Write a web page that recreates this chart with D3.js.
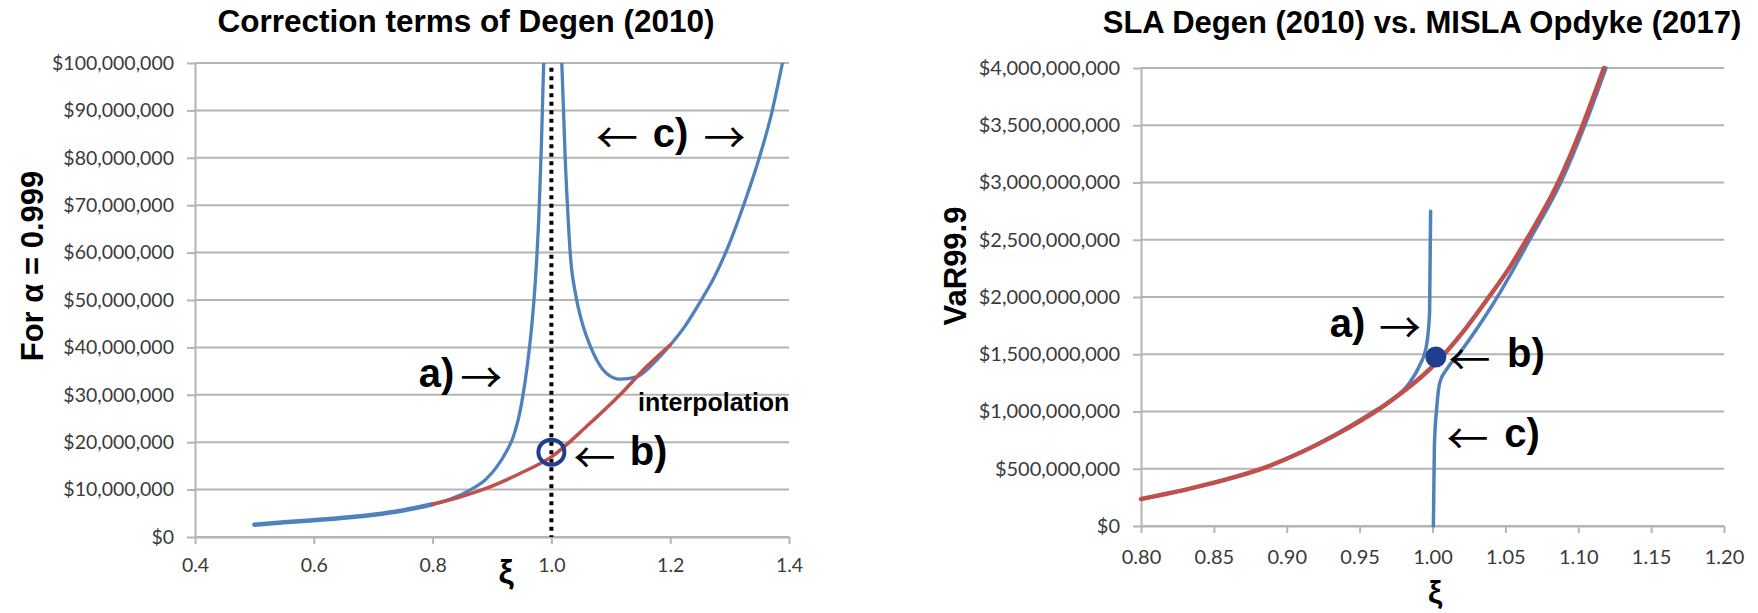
<!DOCTYPE html>
<html>
<head>
<meta charset="utf-8">
<script src="https://cdn.jsdelivr.net/npm/d3@7"></script>
<style>
  body { margin: 0; background: #fff; }
  svg { display: block; }
</style>
</head>
<body>
<svg id="chart" width="1758" height="613"></svg>
<script>
// ---- left panel: correction terms of Degen (2010), values in $ millions ----
var leftXTicks = [0.4, 0.6, 0.8, 1.0, 1.2, 1.4];
var leftYTicks = [0, 10, 20, 30, 40, 50, 60, 70, 80, 90, 100];
// blue curve below the interpolation range
var leftBase = [[0.5, 2.6], [0.55, 3.1], [0.6, 3.55], [0.65, 4.05], [0.7, 4.7], [0.75, 5.6], [0.8, 6.9]];
// a) branch, blows up just left of xi = 1
var leftBranchA = [[0.8, 6.9], [0.83, 8.0], [0.863, 9.9], [0.89, 12.2], [0.908, 14.8], [0.925, 18.2],
    [0.936, 21.2], [0.95, 28.3], [0.96, 36.7], [0.968, 46], [0.974, 56], [0.979, 68],
    [0.983, 82], [0.987, 100]];
// c) branch, comes down right of xi = 1
var leftBranchC = [[1.0175, 100], [1.0204, 90], [1.0232, 80], [1.027, 70], [1.0316, 60], [1.041, 51],
    [1.05, 46], [1.0706, 38.8], [1.093, 34.5], [1.1155, 33.3], [1.1436, 33.8], [1.1716, 36.6],
    [1.2, 40.5], [1.225, 44.5], [1.25, 49.5], [1.275, 55], [1.3, 62], [1.325, 70.5],
    [1.35, 80], [1.37, 89], [1.389, 100]];
// red interpolation between 0.8 and 1.2
var leftInterp = [[0.8, 6.9], [0.85, 8.6], [0.891, 10.3], [0.947, 13.4], [1.0, 16.9], [1.059, 23.3],
    [1.1155, 30], [1.16, 35.9], [1.2, 40.5]];
var leftPointB = [1.0, 17.9];

// ---- right panel: SLA vs MISLA, values in $ billions ----
var rightXTicks = [0.80, 0.85, 0.90, 0.95, 1.00, 1.05, 1.10, 1.15, 1.20];
var rightYTicks = [0, 0.5, 1, 1.5, 2, 2.5, 3, 3.5, 4];
var rightSlaA = [[0.8, 0.235], [0.8405, 0.348], [0.8863, 0.517], [0.932, 0.79], [0.959, 0.995],
    [0.973, 1.106], [0.9843, 1.252], [0.991, 1.397], [0.9958, 1.572], [0.998, 1.86], [0.9987, 2.75]];
var rightSlaC = [[1.0006, 0], [1.0013, 0.7], [1.003, 1.047], [1.005, 1.252], [1.0097, 1.368],
    [1.0188, 1.514], [1.0348, 1.805], [1.0463, 2.039], [1.0667, 2.5], [1.088, 3.0],
    [1.1045, 3.5], [1.119, 4.0]];
var rightMisla = [[0.8, 0.235], [0.8405, 0.348], [0.8863, 0.517], [0.932, 0.785], [0.9663, 1.047],
    [1.0006, 1.40], [1.02, 1.68], [1.037, 1.97], [1.0525, 2.25], [1.0645, 2.5],
    [1.0862, 3.0], [1.103, 3.5], [1.1176, 4.0]];
var rightPointB = [1.0023, 1.476];

var blue = "#4F81BD";
var red = "#C0504D";
var navy = "#1F3E8F";
var gridColor = "#b4b4b4";
var tickFont = "Lato, 'Open Sans', sans-serif";
var boldFont = "'Liberation Sans', Arial, sans-serif";
var arrowFont = "'Noto Sans CJK JP', 'DejaVu Sans', sans-serif";

var svg = d3.select("#chart");

// draws grid and axes of one panel
function drawFrame(x, y, xTicks, yTicks, xFmt, yFmt, fontSize, xPad) {
    var g = svg.append("g");
    g.selectAll(".grid")
        .data(yTicks)
        .enter()
        .append("line")
        .attr("x1", x.range()[0])
        .attr("x2", x.range()[1])
        .attr("y1", function (d) { return y(d); })
        .attr("y2", function (d) { return y(d); })
        .attr("stroke", gridColor)
        .attr("stroke-width", 2);

    var yAxis = g.append("g")
        .attr("transform", "translate(" + x.range()[0] + ",0)")
        .call(d3.axisLeft(y).tickValues(yTicks).tickSize(8).tickSizeOuter(0).tickPadding(13).tickFormat(yFmt));
    var xAxis = g.append("g")
        .attr("transform", "translate(0," + y(0) + ")")
        .call(d3.axisBottom(x).tickValues(xTicks).tickSize(7).tickSizeOuter(0).tickPadding(xPad).tickFormat(xFmt));

    [yAxis, xAxis].forEach(function (a) {
        a.select(".domain").attr("stroke", gridColor).attr("stroke-width", 2);
        a.selectAll(".tick line").attr("stroke", gridColor).attr("stroke-width", 2);
        a.selectAll("text")
            .attr("fill", "#3a3a3a")
            .style("font-family", tickFont)
            .style("font-size", fontSize + "px");
    });
    return g;
}

function addText(x, y, txt, size, weight, anchor, dy) {
    return svg.append("text")
        .attr("x", x)
        .attr("y", y)
        .attr("dy", dy || 0)
        .attr("text-anchor", anchor || "middle")
        .style("font-family", boldFont)
        .style("font-size", size + "px")
        .style("font-weight", weight)
        .attr("fill", "#000")
        .text(txt);
}

// thin arrows are plain text glyphs
function addArrow(x, y, txt) {
    return addText(x, y, txt, 42, "normal", "middle", "0.38em")
        .style("font-family", arrowFont);
}

// ================= LEFT PANEL =================
var xL = d3.scaleLinear().domain([0.4, 1.4]).range([195, 789]);
var yL = d3.scaleLinear().domain([0, 100]).range([537, 63]);

drawFrame(xL, yL, leftXTicks, leftYTicks,
    d3.format(".1f"),
    function (d) { return d3.format("$,")(d * 1000000); },
    19.5, 14);

svg.append("clipPath").attr("id", "clipL")
    .append("rect").attr("x", xL(0.4)).attr("y", yL(100)).attr("width", xL(1.4) - xL(0.4)).attr("height", yL(0) - yL(100));

var lineL = d3.line()
    .x(function (d) { return xL(d[0]); })
    .y(function (d) { return yL(d[1]); })
    .curve(d3.curveMonotoneX);

var curvesL = svg.append("g").attr("clip-path", "url(#clipL)").attr("fill", "none").attr("stroke-linecap", "round");

// dotted line at xi = 1
curvesL.append("line")
    .attr("x1", xL(1.0)).attr("x2", xL(1.0))
    .attr("y1", yL(99)).attr("y2", yL(0))
    .attr("stroke", "#000")
    .attr("stroke-width", 4)
    .attr("stroke-dasharray", "4,4.5")
    .attr("stroke-linecap", "butt");

curvesL.append("path").datum(leftBase).attr("d", lineL).attr("stroke", blue).attr("stroke-width", 4.5);
curvesL.append("path").datum(leftBranchA).attr("d", lineL).attr("stroke", blue).attr("stroke-width", 3.3);
curvesL.append("path").datum(leftBranchC).attr("d", lineL).attr("stroke", blue).attr("stroke-width", 3.3);
curvesL.append("path").datum(leftInterp).attr("d", lineL).attr("stroke", red).attr("stroke-width", 3.5);

svg.append("ellipse")
    .attr("cx", xL(leftPointB[0]))
    .attr("cy", yL(leftPointB[1]))
    .attr("rx", 13)
    .attr("ry", 12.5)
    .attr("fill", "none")
    .attr("stroke", navy)
    .attr("stroke-width", 4);

// titles and labels
addText(466, 32, "Correction terms of Degen (2010)", 31.5, "bold");
addText(0, 0, "For α = 0.999", 31, "bold")
    .attr("transform", "translate(43,266) rotate(-90)");
addText(506, 583, "ξ", 34, "bold");

addArrow(xL(1.1105), yL(84.4), "←");
addText(xL(1.2005), yL(84.4), "c)", 40, "bold", "middle", "0.26em");
addArrow(xL(1.2914), yL(84.4), "→");

addText(xL(0.8066), yL(33.75), "a)", 40, "bold", "middle", "0.26em");
addArrow(xL(0.882), yL(33.75), "→");

addArrow(xL(1.0726), yL(16.9), "←");
addText(xL(1.1635), yL(17.3), "b)", 40, "bold", "middle", "0.26em");

addText(xL(1.1458), yL(26.6), "interpolation", 25, "bold", "start");

// ================= RIGHT PANEL =================
var xR = d3.scaleLinear().domain([0.8, 1.2]).range([1141, 1724]);
var yR = d3.scaleLinear().domain([0, 4]).range([526, 68]);

drawFrame(xR, yR, rightXTicks, rightYTicks,
    d3.format(".2f"),
    function (d) { return "$" + d3.format(",")(Math.round(d * 1000000000)); },
    20, 17);

var lineR = d3.line()
    .x(function (d) { return xR(d[0]); })
    .y(function (d) { return yR(d[1]); })
    .curve(d3.curveMonotoneX);

var curvesR = svg.append("g").attr("fill", "none").attr("stroke-linecap", "round");
curvesR.append("path").datum(rightSlaA).attr("d", lineR).attr("stroke", blue).attr("stroke-width", 3.5);
curvesR.append("path").datum(rightSlaC).attr("d", lineR).attr("stroke", blue).attr("stroke-width", 3.5);
curvesR.append("path").datum(rightMisla).attr("d", lineR).attr("stroke", red).attr("stroke-width", 4.5);

svg.append("ellipse")
    .attr("cx", xR(rightPointB[0]))
    .attr("cy", yR(rightPointB[1]))
    .attr("rx", 10.5)
    .attr("ry", 10.5)
    .attr("fill", navy);

addText(1422, 33, "SLA Degen (2010) vs. MISLA Opdyke (2017)", 31, "bold");
addText(0, 0, "VaR99.9", 31, "bold")
    .attr("transform", "translate(966,266) rotate(-90)");
addText(1435, 603, "ξ", 32, "bold");

addText(xR(0.9417), yR(1.741), "a)", 40, "bold", "middle", "0.26em");
addArrow(xR(0.9777), yR(1.741), "→");

addArrow(xR(1.0254), yR(1.4585), "←");
addText(xR(1.0641), yR(1.479), "b)", 40, "bold", "middle", "0.26em");

addArrow(xR(1.024), yR(0.766), "←");
addText(xR(1.0614), yR(0.78), "c)", 40, "bold", "middle", "0.26em");
</script>
</body>
</html>
